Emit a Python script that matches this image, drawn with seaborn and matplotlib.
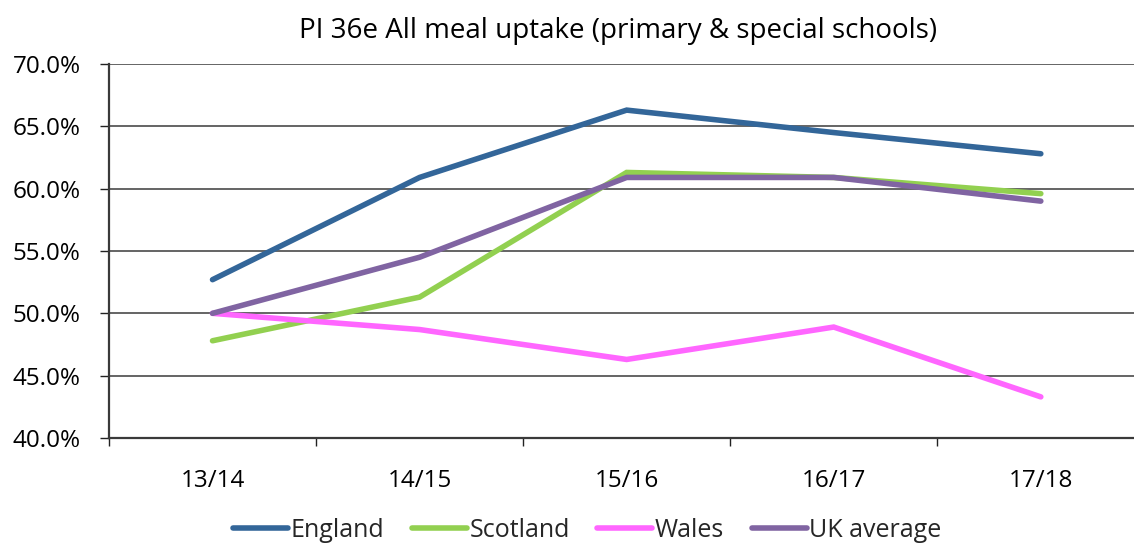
import matplotlib
matplotlib.use("Agg")
import matplotlib.pyplot as plt
import matplotlib.ticker as mticker
import numpy as np
import pandas as pd
import seaborn as sns

years = ["13/14", "14/15", "15/16", "16/17", "17/18"]
england = [52.7, 60.9, 66.3, 64.5, 62.8]
scotland = [47.8, 51.3, 61.3, 60.9, 59.6]
wales = [50.0, 48.7, 46.3, 48.9, 43.3]
uk_average = [50.0, 54.5, 60.9, 60.9, 59.0]

series_names = ["England", "Scotland", "Wales", "UK average"]
series_colors = ["#336699", "#92D050", "#FF66FF", "#8064A2"]

frames = []
for name, vals in zip(series_names, [england, scotland, wales, uk_average]):
    frames.append(pd.DataFrame({"year": years, "pos": np.arange(len(years)),
                                "value": vals, "series": name}))
df = pd.concat(frames, ignore_index=True)

sns.set_theme(style="white")
plt.rcParams["font.family"] = ["Open Sans", "DejaVu Sans"]

fig = plt.figure(figsize=(11.34, 5.45), dpi=100)
ax = fig.add_axes([0.0961, 0.1963, 0.9039, 0.6863])

sns.lineplot(data=df, x="pos", y="value", hue="series", hue_order=series_names,
             palette=series_colors, linewidth=4, ax=ax, legend=True,
             solid_capstyle="round", solid_joinstyle="miter", sort=False)

ax.yaxis.set_major_locator(mticker.MultipleLocator(5))
ax.yaxis.set_major_formatter(mticker.FuncFormatter(lambda v, p: f"{v:.1f}%"))
ax.grid(axis="y", color="#3a3a3a", linewidth=1.1)
ax.set_axisbelow(True)

# category labels centred, tick marks on the bin boundaries
ax.set_xticks(np.arange(len(years)))
ax.set_xticklabels(years)
ax.set_xticks(np.arange(-0.5, len(years), 1.0), minor=True)
ax.set_ylim(40, 70)
ax.set_xlim(-0.5, 4.45)
ax.tick_params(axis="x", which="major", length=0, pad=22, labelsize=17.5, colors="#000000")
ax.tick_params(axis="x", which="minor", bottom=True, length=6, width=1,
               color="#222222", direction="out")
ax.tick_params(axis="y", length=6.5, width=1, color="#222222", direction="out",
               labelsize=17.5, pad=14, left=True)
for lab in ax.get_yticklabels():
    lab.set_color("#000000")

ax.set_xlabel("")
ax.set_ylabel("")
for s in ["top", "right"]:
    ax.spines[s].set_visible(False)
ax.spines["left"].set_color("#3a3a3a")
ax.spines["left"].set_linewidth(1.6)
ax.spines["bottom"].set_color("#3a3a3a")
ax.spines["bottom"].set_linewidth(1.6)

ax.legend_.remove()
handles = [plt.Line2D([0], [0], color=c, linewidth=4, solid_capstyle="round")
           for c in series_colors]
fig.legend(handles, series_names, loc="center", bbox_to_anchor=(0.518, 0.027),
           ncol=4, frameon=False, fontsize=18, handlelength=2.2,
           handletextpad=0.1, columnspacing=1.1)

fig.text(0.545, 0.943, "PI 36e All meal uptake (primary & special schools)",
         ha="center", va="center", fontsize=20, color="#000000")

fig.savefig("out.png", dpi=100)
